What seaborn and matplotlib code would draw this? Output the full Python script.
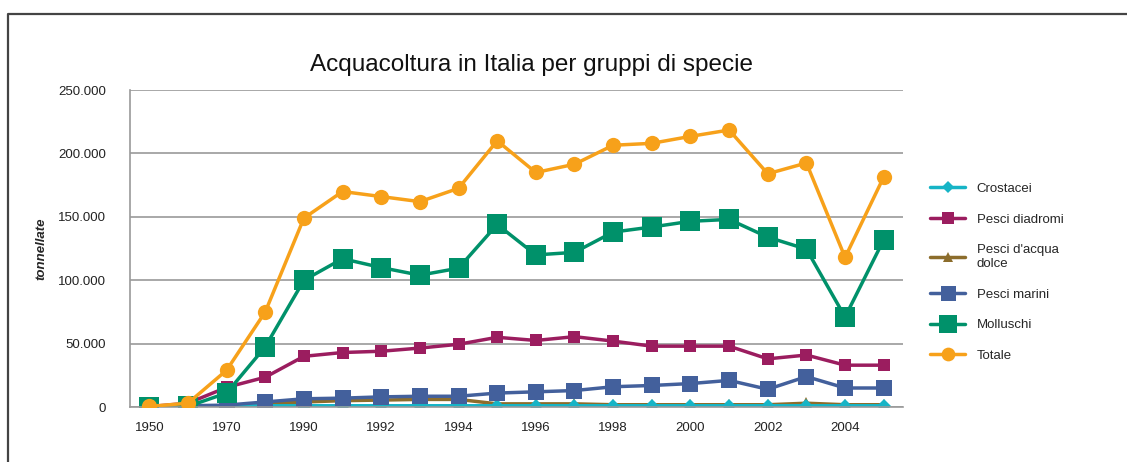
import numpy as np
import pandas as pd
import matplotlib.pyplot as plt
import seaborn as sns
from matplotlib.lines import Line2D
from matplotlib.ticker import FuncFormatter

sns.set_theme(style="white")
plt.rcParams['font.family'] = ['Liberation Sans', 'DejaVu Sans']

# anni (asse categoriale)
anni = ["1950", "1960", "1970", "1980", "1990", "1991", "1992", "1993", "1994", "1995",
        "1996", "1997", "1998", "1999", "2000", "2001", "2002", "2003", "2004", "2005"]

crostacei = [500, 700, 900, 1000, 1000, 1000, 1000, 1000, 1000, 1000,
             1000, 1000, 1000, 1000, 1000, 1000, 1000, 1000, 1000, 1000]
pesci_diadromi = [300, 3000, 15500, 23500, 40000, 43000, 44000, 46500, 49500, 55000,
                  52500, 55500, 52000, 48000, 48000, 48000, 38000, 41000, 33000, 33000]
pesci_acqua_dolce = [0, 200, 1000, 2500, 4000, 5000, 5500, 6000, 6000, 2500,
                     2500, 2500, 1800, 1800, 1800, 1800, 1800, 3000, 1800, 1800]
pesci_marini = [200, 1000, 1500, 4000, 6500, 7000, 8000, 8500, 8500, 11000,
                12000, 13000, 16000, 17000, 18500, 21000, 14000, 24000, 15000, 15000]
molluschi = [300, 500, 11000, 47500, 100000, 117000, 110000, 104000, 109500, 144000,
             120000, 122000, 138000, 142000, 146500, 148000, 134000, 124500, 71000, 132000]
totale = [500, 3000, 29000, 75000, 149000, 170000, 166000, 162000, 172500, 210000,
          185000, 191500, 206500, 208000, 213500, 218500, 184000, 192500, 118000, 181500]

serie = {
    "Crostacei": crostacei,
    "Pesci diadromi": pesci_diadromi,
    "Pesci d'acqua\ndolce": pesci_acqua_dolce,
    "Pesci marini": pesci_marini,
    "Molluschi": molluschi,
    "Totale": totale,
}

# stile per serie: colore, marker, dimensione marker, zorder
stili = {
    "Crostacei": ("#16B4C6", "D", 7, 2.2),
    "Pesci diadromi": ("#9B1D5F", "s", 9, 2.3),
    "Pesci d'acqua\ndolce": ("#8C6D2C", "^", 8, 2.1),
    "Pesci marini": ("#43609C", "s", 12, 2.4),
    "Molluschi": ("#00916A", "s", 14, 2.5),
    "Totale": ("#F7A11A", "o", 11, 2.6),
}

fig = plt.figure(figsize=(11.27, 4.62), dpi=100)
ax = fig.add_axes([0.1153, 0.119, 0.686, 0.686])

x = np.arange(len(anni))
for nome, valori in serie.items():
    colore, marker, ms, z = stili[nome]
    df = pd.DataFrame({"x": x, "y": valori})
    sns.lineplot(data=df, x="x", y="y", ax=ax, color=colore, marker=marker,
                 markersize=ms, markeredgewidth=0, linewidth=2.5, label=nome, zorder=z)

ax.set_xlim(-0.5, len(anni) - 0.5)
ax.set_ylim(0, 250000)
ax.set_yticks(np.arange(0, 250001, 50000))
ax.yaxis.set_major_formatter(FuncFormatter(lambda v, p: f"{int(v):,}".replace(",", ".")))
ax.set_xticks(x[::2])
ax.set_xticklabels(anni[::2])
ax.tick_params(axis="both", labelsize=9.5, colors="#222222", length=0)
ax.tick_params(axis="x", pad=11)
ax.tick_params(axis="y", pad=17)

ax.grid(axis="y", color="#9a9a9a", linewidth=1.2)
ax.set_axisbelow(True)
for s in ["top", "right"]:
    ax.spines[s].set_visible(False)
for s in ["left", "bottom"]:
    ax.spines[s].set_color("#9a9a9a")
    ax.spines[s].set_linewidth(1.2)

ax.set_xlabel("")
ax.set_ylabel("tonnellate", fontsize=9.5, fontstyle="italic", fontweight="bold", labelpad=8)
ax.set_title("Acquacoltura in Italia per gruppi di specie", fontsize=17.5, pad=14,
             color="#111111", x=0.519)

leg = ax.legend(loc="center left", bbox_to_anchor=(1.02, 0.425), frameon=False,
                fontsize=9.5, handlelength=2.6, handletextpad=0.9, labelspacing=1.4,
                markerscale=0.9)

# cornice esterna
fig.add_artist(Line2D([8 / 1127, 8 / 1127, 1.0], [0.0, 1 - 14 / 462, 1 - 14 / 462],
                      transform=fig.transFigure, color="#444444", linewidth=1.6))

plt.savefig("out.png", dpi=100)
plt.close()
